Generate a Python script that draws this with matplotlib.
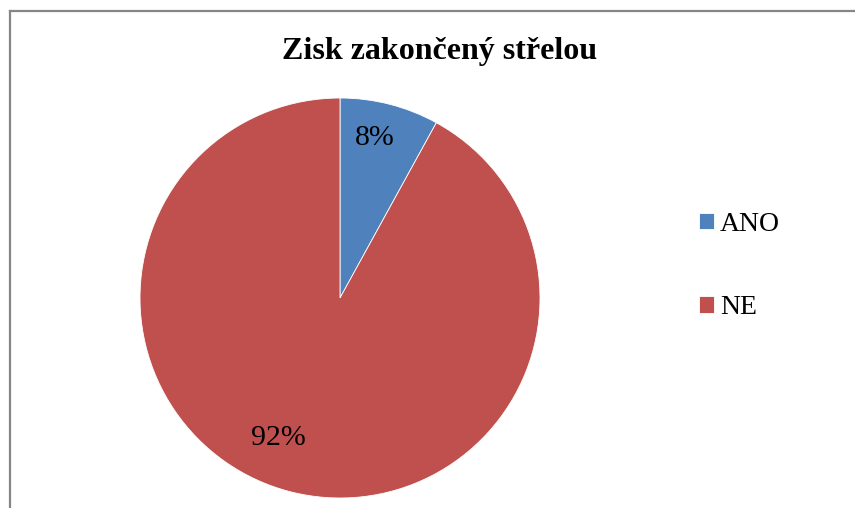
import matplotlib
matplotlib.use("Agg")
import matplotlib.pyplot as plt
from matplotlib.lines import Line2D

categories = ["ANO", "NE"]
values = [8, 92]
colors = ["#4F81BD", "#C0504D"]
title = "Zisk zakončený střelou"

plt.rcParams['font.family'] = ['Liberation Serif', 'DejaVu Serif']

fig = plt.figure(figsize=(8.55, 5.08), dpi=100)
ax = fig.add_axes([140/855, 10/508, 400/855, 400/508])

wedges, texts, autotexts = ax.pie(
    values, colors=colors, startangle=90, counterclock=False,
    autopct=lambda p: f"{p:.0f}%", pctdistance=0.8,
    wedgeprops=dict(edgecolor="white", linewidth=0.6),
    textprops=dict(fontsize=21.5, color="black"))
ax.set_xlim(-1, 1)
ax.set_ylim(-1, 1)
ax.set_aspect("auto")
# adjust label positions to match reference
autotexts[0].set_position((0.175, 0.80))
autotexts[1].set_position((-0.31, -0.70))

fig.text(440/855, 1 - 51/508, title, ha="center", va="center",
         fontsize=23, fontweight="bold")

leg = fig.legend(wedges, categories, loc="center left",
                 bbox_to_anchor=(674/855, 1 - 266/508), frameon=False,
                 fontsize=20, handlelength=0.55, handleheight=0.55,
                 handletextpad=0.2, labelspacing=2.1)

# border lines
fig.add_artist(Line2D([9.5/855, 9.5/855], [0, 1 - 11/508], color="#868686", lw=1.6))
fig.add_artist(Line2D([9.5/855, 1], [1 - 11/508, 1 - 11/508], color="#868686", lw=1.6))

fig.savefig("out.png", dpi=100)
